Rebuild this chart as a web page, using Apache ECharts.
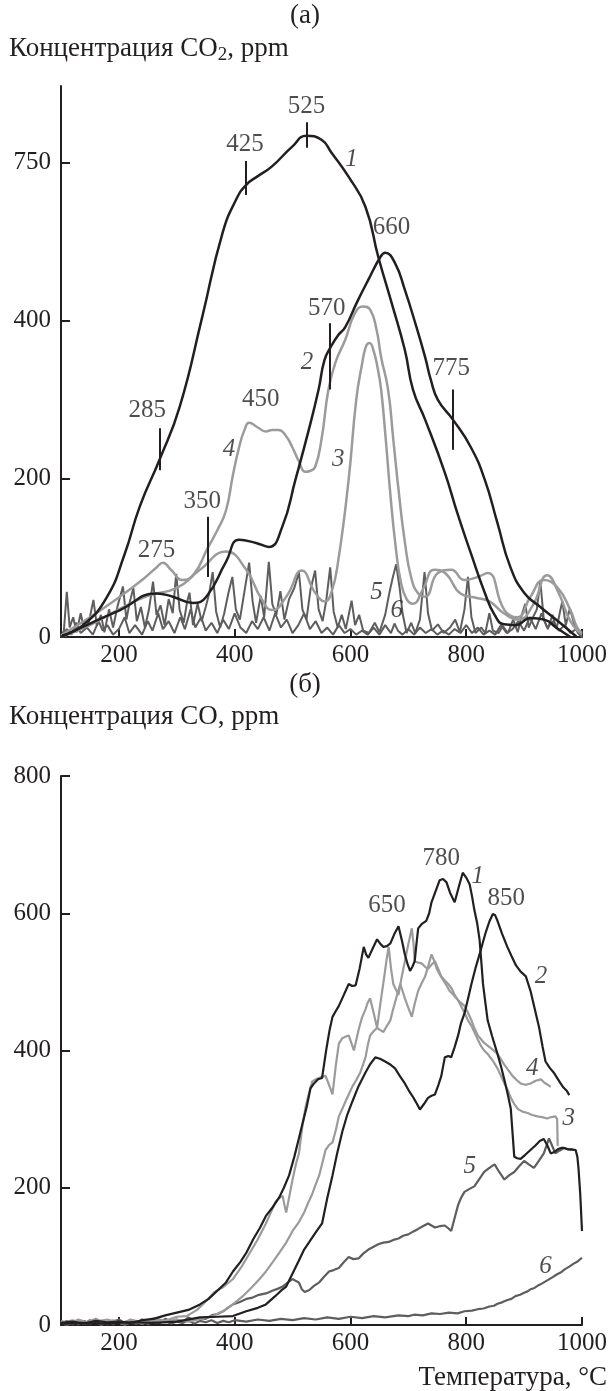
<!DOCTYPE html>
<html>
<head>
<meta charset="utf-8">
<script src="https://cdn.jsdelivr.net/npm/echarts@6.0.0/dist/echarts.min.js"></script>
<style>
  html, body { margin: 0; padding: 0; background: #fff; }
  #chart { width: 610px; height: 1391px; }
</style>
</head>
<body>
<div id="chart"></div>
<script>
// ---------- data (temperature, °C ; concentration) ----------
// ось x общая для обеих панелей
const tempTicks = [200, 400, 600, 800, 1000];

// (а) CO2 — значения в единицах оси (деления 0,200,400 и "750" идут с равным шагом)
const co2Ticks = [0, 200, 400, 600];
const co2TickLabels = ['0', '200', '400', '750'];

const co2Curve1 = [[102,2],[138,15],[179,50],[210,105],[236,165],[270,224],[305,291],[344,405],[379,511],[403,554],[420,572],[440,583],[464,595],[499,620],[524,634],[550,629],[567,613],[597,582],[626,544],[648,481],[671,423],[694,363],[708,313],[729,275],[763,208],[785,156],[808,106],[832,56],[849,28],[865,16],[885,15],[911,24],[935,22],[957,11],[980,0]];
const co2Curve2 = [[100,0],[150,17],[202,34],[265,55],[293,51],[328,43],[351,51],[385,95],[408,123],[437,119],[459,114],[482,139],[505,199],[528,262],[545,313],[555,350],[566,367],[579,382],[591,392],[611,423],[631,452],[652,481],[660,486],[677,473],[694,439],[712,397],[729,354],[739,325],[751,300],[777,275],[808,240],[832,199],[854,144],[876,89],[900,56],[928,38],[962,18],[991,0]];
const co2Curve3 = [[100,0],[150,15],[200,35],[250,52],[300,62],[340,85],[385,108],[420,85],[445,50],[465,34],[490,52],[516,84],[539,56],[556,45],[567,56],[579,97],[597,200],[610,300],[620,345],[627,368],[633,372],[640,362],[647,340],[653,313],[661,250],[669,180],[678,115],[687,70],[697,48],[708,42],[725,60],[745,85],[765,80],[790,55],[815,50],[840,45],[865,30],[890,22],[915,40],[940,78],[960,55],[980,20],[1000,3]];
const co2Curve4 = [[100,2],[150,25],[200,50],[240,72],[265,88],[276,94],[290,85],[310,72],[330,80],[353,112],[370,135],[385,160],[397,205],[408,241],[417,262],[425,271],[440,265],[454,260],[465,262],[476,262],[488,255],[499,241],[511,222],[522,209],[530,210],[539,215],[550,250],[562,313],[574,347],[591,376],[608,410],[622,418],[634,414],[645,389],[653,354],[665,313],[674,250],[684,180],[694,120],[705,75],[717,55],[729,51],[751,81],[774,85],[797,72],[820,76],[837,81],[866,34],[888,25],[911,51],[934,72],[957,63],[980,34],[991,13],[1000,5]];
const co2Curve5 = [[100,0],[105,8],[110,57],[115,12],[121,25],[127,6],[134,30],[140,10],[148,18],[156,47],[162,14],[169,28],[175,6],[183,35],[190,12],[198,40],[207,64],[213,22],[219,45],[225,62],[231,20],[238,38],[245,12],[252,35],[259,70],[265,28],[272,40],[279,15],[286,48],[293,30],[299,80],[305,34],[312,18],[318,45],[322,56],[328,15],[336,42],[343,20],[350,38],[356,55],[362,82],[368,32],[375,12],[382,30],[389,55],[396,76],[402,35],[409,22],[417,58],[425,94],[431,45],[437,18],[445,52],[451,25],[459,95],[465,42],[472,28],[479,58],[486,22],[494,48],[503,62],[511,82],[517,35],[524,22],[531,60],[539,84],[545,35],[552,20],[558,45],[565,88],[571,32],[578,12],[585,28],[592,10],[602,46],[608,15],[615,28],[622,8],[632,5],[642,18],[650,6],[660,28],[667,55],[673,75],[679,92],[685,62],[690,30],[697,5],[705,18],[712,5],[720,22],[728,82],[734,30],[741,8],[751,16],[761,5],[772,12],[781,22],[789,6],[797,35],[803,76],[809,25],[816,5],[826,12],[833,5],[840,30],[846,8],[856,5],[863,14],[872,5],[881,22],[889,6],[896,28],[902,42],[908,12],[916,26],[922,35],[928,71],[934,22],[941,10],[949,28],[956,10],[962,32],[966,45],[972,15],[979,36],[986,18],[993,5],[1000,0]];
const co2Curve6 = [[100,0],[110,10],[118,3],[126,18],[134,5],[145,12],[155,3],[165,20],[172,8],[180,15],[190,3],[200,10],[210,25],[218,5],[228,15],[240,3],[250,20],[258,8],[268,30],[276,10],[286,20],[296,5],[306,25],[314,10],[324,35],[332,12],[342,25],[350,8],[360,18],[370,5],[380,22],[390,10],[400,30],[410,12],[420,5],[430,20],[440,10],[450,25],[460,8],[470,30],[480,12],[490,22],[500,5],[510,15],[520,30],[530,10],[540,20],[550,5],[560,12],[570,3],[580,15],[590,5],[600,10],[610,3],[620,8],[630,3],[640,12],[650,3],[660,15],[670,5],[676,17],[682,8],[690,3],[700,10],[710,3],[720,12],[730,5],[740,10],[750,3],[760,8],[770,3],[780,10],[790,5],[800,15],[810,5],[820,12],[830,3],[840,8],[850,3],[860,15],[870,5],[880,10],[890,20],[900,8],[910,25],[920,10],[930,30],[940,12],[950,20],[960,8],[970,15],[980,5],[990,10],[1000,0]];

// отметки пиков на панели (а): [T, низ, верх]
const co2Marks = [[270,211,264],[353,76,152],[419,559,602],[525,619,651],[565,313,397],[777,237,313]];
// подписи пиков: [текст, T, y]
const co2PeakLabels = [['285',249,287],['275',265,110],['350',344,171],['425',418,623],['450',445,300],['525',524,671],['570',559,416],['660',671,518],['775',774,340]];
// номера кривых
const co2CurveLabels = [['1',602,604],['2',525,347],['3',579,224],['4',390,237],['5',645,57],['6',680,34]];

// (б) CO, ppm
const coCurve1 = [[100,3],[120,5],[140,2],[160,6],[180,4],[200,5],[220,3],[240,7],[260,9],[280,14],[300,18],[320,22],[340,30],[355,38],[370,50],[385,62],[397,78],[410,92],[420,105],[432,125],[444,142],[454,159],[466,172],[477,186],[485,200],[494,218],[503,245],[511,272],[517,293],[525,320],[531,345],[537,352],[544,358],[551,360],[558,400],[564,430],[569,449],[575,458],[580,465],[588,480],[597,497],[603,494],[609,495],[616,520],[623,551],[627,540],[631,535],[638,548],[646,562],[652,555],[657,551],[663,552],[669,556],[676,570],[683,581],[689,560],[694,540],[699,525],[703,516],[707,522],[711,530],[714,555],[717,578],[724,585],[731,589],[736,600],[740,616],[747,632],[754,648],[760,650],[766,645],[772,630],[780,616],[787,638],[794,659],[800,652],[806,642],[810,625],[814,605],[819,585],[823,562],[826,530],[829,497],[833,470],[837,444],[845,420],[854,395],[860,377],[866,357],[872,335],[877,315],[880,280],[883,245],[888,243],[894,242],[902,248],[911,255],[920,262],[927,268],[934,271],[940,262],[946,250],[952,252],[958,256],[964,258],[969,258],[975,256],[982,256],[989,255],[992,245],[994,228],[997,190],[1000,137]];
const coCurve2 = [[100,2],[140,3],[180,2],[220,4],[260,3],[300,5],[340,11],[370,12],[397,13],[420,20],[440,25],[454,30],[470,42],[480,50],[489,56],[500,75],[511,94],[520,110],[529,121],[540,135],[551,148],[560,185],[569,218],[577,250],[586,282],[594,305],[603,325],[614,348],[626,368],[634,380],[643,390],[651,388],[660,384],[668,380],[677,374],[686,362],[694,352],[702,340],[709,331],[715,322],[720,314],[727,322],[734,331],[740,334],[746,336],[752,350],[757,363],[763,390],[769,392],[774,390],[780,405],[786,422],[791,440],[797,454],[803,475],[809,497],[816,520],[823,540],[829,558],[834,573],[840,588],[846,599],[850,597],[854,589],[862,570],[871,551],[878,538],[886,524],[894,515],[903,508],[911,487],[918,462],[926,433],[932,405],[937,384],[944,375],[951,368],[957,360],[963,352],[968,346],[974,341],[978,335]];
const coCurve3 = [[100,6],[115,2],[130,8],[145,4],[160,9],[175,3],[190,7],[205,2],[220,8],[240,4],[260,10],[280,6],[300,12],[317,13],[335,22],[351,35],[365,48],[380,55],[397,67],[412,85],[426,105],[440,125],[454,148],[463,165],[471,180],[477,185],[483,188],[486,175],[489,164],[495,190],[500,212],[506,235],[511,250],[517,290],[523,320],[529,340],[534,355],[540,358],[546,360],[552,362],[557,363],[563,350],[569,336],[575,380],[580,410],[586,418],[591,420],[597,422],[602,410],[606,400],[614,430],[620,448],[626,460],[630,470],[634,476],[640,455],[646,433],[652,470],[658,505],[662,530],[666,551],[670,520],[674,497],[679,488],[683,481],[688,505],[694,530],[700,555],[706,578],[709,555],[711,530],[717,528],[723,527],[729,522],[734,519],[740,525],[746,530],[752,518],[757,508],[763,502],[769,497],[775,490],[780,481],[786,473],[791,465],[797,455],[803,444],[809,436],[814,427],[820,416],[826,406],[831,400],[837,395],[846,385],[854,374],[860,363],[866,352],[872,342],[877,331],[883,322],[889,315],[897,311],[906,309],[914,306],[923,304],[931,303],[940,301],[947,303],[954,304],[957,300],[958,261]];
const coCurve4 = [[100,3],[120,7],[140,2],[160,5],[180,8],[200,3],[220,6],[240,2],[260,7],[280,4],[300,8],[320,5],[340,9],[363,13],[380,20],[397,30],[414,42],[431,56],[443,67],[454,78],[466,92],[477,105],[489,120],[500,137],[511,150],[520,164],[527,178],[534,191],[540,205],[546,218],[552,238],[557,255],[563,262],[569,266],[575,285],[580,304],[586,315],[591,325],[597,336],[603,347],[610,357],[617,368],[622,380],[626,390],[630,408],[634,422],[640,428],[646,433],[651,430],[657,427],[663,436],[669,444],[673,458],[677,470],[682,485],[686,497],[690,487],[694,476],[700,462],[706,449],[711,468],[717,487],[723,498],[729,508],[734,522],[740,540],[745,530],[749,519],[754,511],[760,503],[766,495],[771,487],[777,482],[783,476],[790,470],[797,465],[803,455],[809,444],[814,433],[820,422],[826,416],[831,411],[837,407],[843,403],[849,399],[854,395],[860,387],[866,379],[873,371],[880,363],[887,357],[894,352],[902,350],[911,352],[920,356],[929,358],[935,353],[941,350],[946,347]];
const coCurve5 = [[100,2],[110,6],[120,1],[130,5],[140,2],[150,7],[160,3],[170,6],[180,1],[190,5],[200,8],[210,3],[220,6],[230,2],[240,8],[250,4],[260,7],[270,3],[280,9],[290,5],[300,8],[310,4],[320,11],[330,7],[340,10],[350,9],[360,14],[370,16],[380,20],[390,26],[397,30],[410,34],[420,38],[431,40],[442,44],[454,46],[465,50],[475,53],[483,56],[492,62],[500,67],[506,64],[511,62],[516,52],[521,48],[529,51],[537,57],[546,62],[554,70],[563,78],[571,80],[580,83],[588,91],[597,99],[605,96],[614,97],[622,104],[631,110],[640,114],[649,118],[657,120],[666,121],[674,124],[683,126],[691,130],[700,132],[708,136],[717,140],[725,144],[734,148],[740,145],[746,142],[754,144],[763,145],[769,141],[774,137],[780,156],[786,175],[791,185],[797,194],[805,198],[814,202],[822,212],[831,223],[840,229],[849,234],[857,223],[866,212],[874,218],[883,223],[891,231],[900,239],[908,234],[917,229],[926,240],[934,250],[939,262],[943,272],[948,262],[954,250],[961,254],[969,258],[977,256],[986,255]];
const coCurve6 = [[100,3],[110,0],[120,5],[130,1],[140,6],[150,2],[160,4],[170,0],[180,5],[190,1],[200,6],[210,0],[220,4],[230,2],[240,7],[250,1],[260,5],[270,3],[280,6],[290,2],[300,5],[310,3],[320,7],[330,2],[340,6],[350,4],[360,7],[370,3],[380,6],[390,4],[400,7],[420,5],[440,8],[460,6],[480,9],[500,7],[520,10],[540,8],[560,11],[580,9],[600,12],[620,10],[640,13],[660,11],[683,14],[700,13],[710,15],[725,14],[740,17],[755,16],[770,18],[785,17],[797,20],[810,21],[820,23],[830,24],[840,27],[848,28],[854,31],[862,33],[870,36],[878,38],[885,42],[893,44],[900,47],[906,49],[911,52],[918,54],[925,58],[932,61],[940,65],[948,69],[957,74],[964,77],[970,81],[978,85],[985,89],[993,93],[1000,98]];

const coPeakLabels = [['650',663,611],['780',757,680],['850',869,621]];
const coCurveLabels = [['1',820,654],['2',929,508],['3',977,301],['4',914,374],['5',806,231],['6',937,86]];

// ---------- styles ----------
const black = '#231f20';
const lightGray = '#9b9b9b';
const darkGray = '#5e5e5e';
const font = 'Liberation Serif, Times New Roman, serif';
const numSize = 25;   // цифры и номера кривых
const textSize = 27;  // подписи осей
const plainText = { color: black, fontFamily: font, fontSize: textSize, fontWeight: 'normal' };

function lineSeries(data, color, width, smooth, idx) {
  return {
    type: 'line', data: data, xAxisIndex: idx, yAxisIndex: idx,
    showSymbol: false, smooth: smooth, silent: true,
    lineStyle: { color: color, width: width }
  };
}

// подписи как scatter без маркеров
function textSeries(list, idx, italic) {
  return {
    type: 'scatter', xAxisIndex: idx, yAxisIndex: idx, symbolSize: 1, silent: true, z: 10,
    itemStyle: { color: 'rgba(0,0,0,0)' },
    data: list.map(l => ({ name: l[0], value: [l[1], l[2]] })),
    label: {
      show: true, position: 'inside', formatter: p => p.name,
      color: black, fontFamily: font, fontSize: numSize, fontWeight: 'normal',
      fontStyle: italic ? 'italic' : 'normal'
    }
  };
}

function xAxis(idx) {
  return {
    type: 'value', gridIndex: idx, min: 100, max: 1000,
    axisLine: { lineStyle: { color: black, width: 2 } },
    axisTick: { inside: true, length: 8, customValues: tempTicks, lineStyle: { color: black, width: 2 } },
    axisLabel: {
      customValues: tempTicks, color: black, fontFamily: font, fontSize: numSize, margin: 6,
      hideOverlap: false, formatter: v => String(v)
    },
    splitLine: { show: false }
  };
}

const chart = echarts.init(document.getElementById('chart'));

const option = {
  animation: false,
  backgroundColor: '#fff',
  title: [
    { text: '(а)', left: 'center', top: 2, padding: 0, textStyle: plainText },
    {
      text: '{a|Концентрация CO}{s|2}{a|, ppm}', left: 9, top: 35, padding: 0,
      textStyle: {
        rich: {
          a: { color: black, fontFamily: font, fontSize: textSize, fontWeight: 'normal', lineHeight: 29, verticalAlign: 'top' },
          s: { color: black, fontFamily: font, fontSize: 19, fontWeight: 'normal', lineHeight: 22, padding: [11, 0, 0, 0], verticalAlign: 'top' }
        }
      }
    },
    { text: '(б)', left: 'center', top: 671, padding: 0, textStyle: plainText },
    { text: 'Концентрация CO, ppm', left: 9, top: 703, padding: 0, textStyle: plainText },
    { text: 'Температура, °C', right: 3, top: 1364, padding: 0, textStyle: plainText }
  ],
  grid: [
    { left: 61, right: 24, top: 86, height: 551 },
    { left: 61, right: 24, top: 776, height: 549 }
  ],
  xAxis: [xAxis(0), xAxis(1)],
  yAxis: [
    {
      type: 'value', gridIndex: 0, min: 0, max: 697,
      axisLine: { show: true, lineStyle: { color: black, width: 2 } },
      axisTick: { show: true, inside: true, length: 9, customValues: co2Ticks, lineStyle: { color: black, width: 2 } },
      axisLabel: {
        customValues: co2Ticks, color: black, fontFamily: font, fontSize: numSize, margin: 10,
        formatter: v => co2TickLabels[co2Ticks.indexOf(v)]
      },
      splitLine: { show: false }
    },
    {
      type: 'value', gridIndex: 1, min: 0, max: 800, interval: 200,
      axisLine: { show: true, lineStyle: { color: black, width: 2 } },
      axisTick: { show: true, inside: true, length: 9, lineStyle: { color: black, width: 2 } },
      axisLabel: { color: black, fontFamily: font, fontSize: numSize, margin: 10 },
      splitLine: { show: false }
    }
  ],
  series: [
    // (а)
    lineSeries(co2Curve6, darkGray, 2, false, 0),
    lineSeries(co2Curve5, darkGray, 2, false, 0),
    lineSeries(co2Curve3, lightGray, 2.5, 0.5, 0),
    lineSeries(co2Curve4, lightGray, 2.5, 0.5, 0),
    lineSeries(co2Curve2, black, 2.5, 0.5, 0),
    Object.assign(lineSeries(co2Curve1, black, 2.5, 0.5, 0), {
      markLine: {
        silent: true, symbol: ['none', 'none'], label: { show: false },
        lineStyle: { color: black, width: 2, type: 'solid' },
        data: co2Marks.map(m => [{ coord: [m[0], m[1]] }, { coord: [m[0], m[2]] }])
      }
    }),
    textSeries(co2PeakLabels, 0, false),
    textSeries(co2CurveLabels, 0, true),
    // (б)
    lineSeries(coCurve6, darkGray, 2.2, false, 1),
    lineSeries(coCurve5, darkGray, 2.2, false, 1),
    lineSeries(coCurve3, lightGray, 2.2, false, 1),
    lineSeries(coCurve4, lightGray, 2.2, false, 1),
    lineSeries(coCurve2, black, 2.2, false, 1),
    lineSeries(coCurve1, black, 2.2, false, 1),
    textSeries(coPeakLabels, 1, false),
    textSeries(coCurveLabels, 1, true)
  ]
};

chart.setOption(option);
</script>
</body>
</html>
